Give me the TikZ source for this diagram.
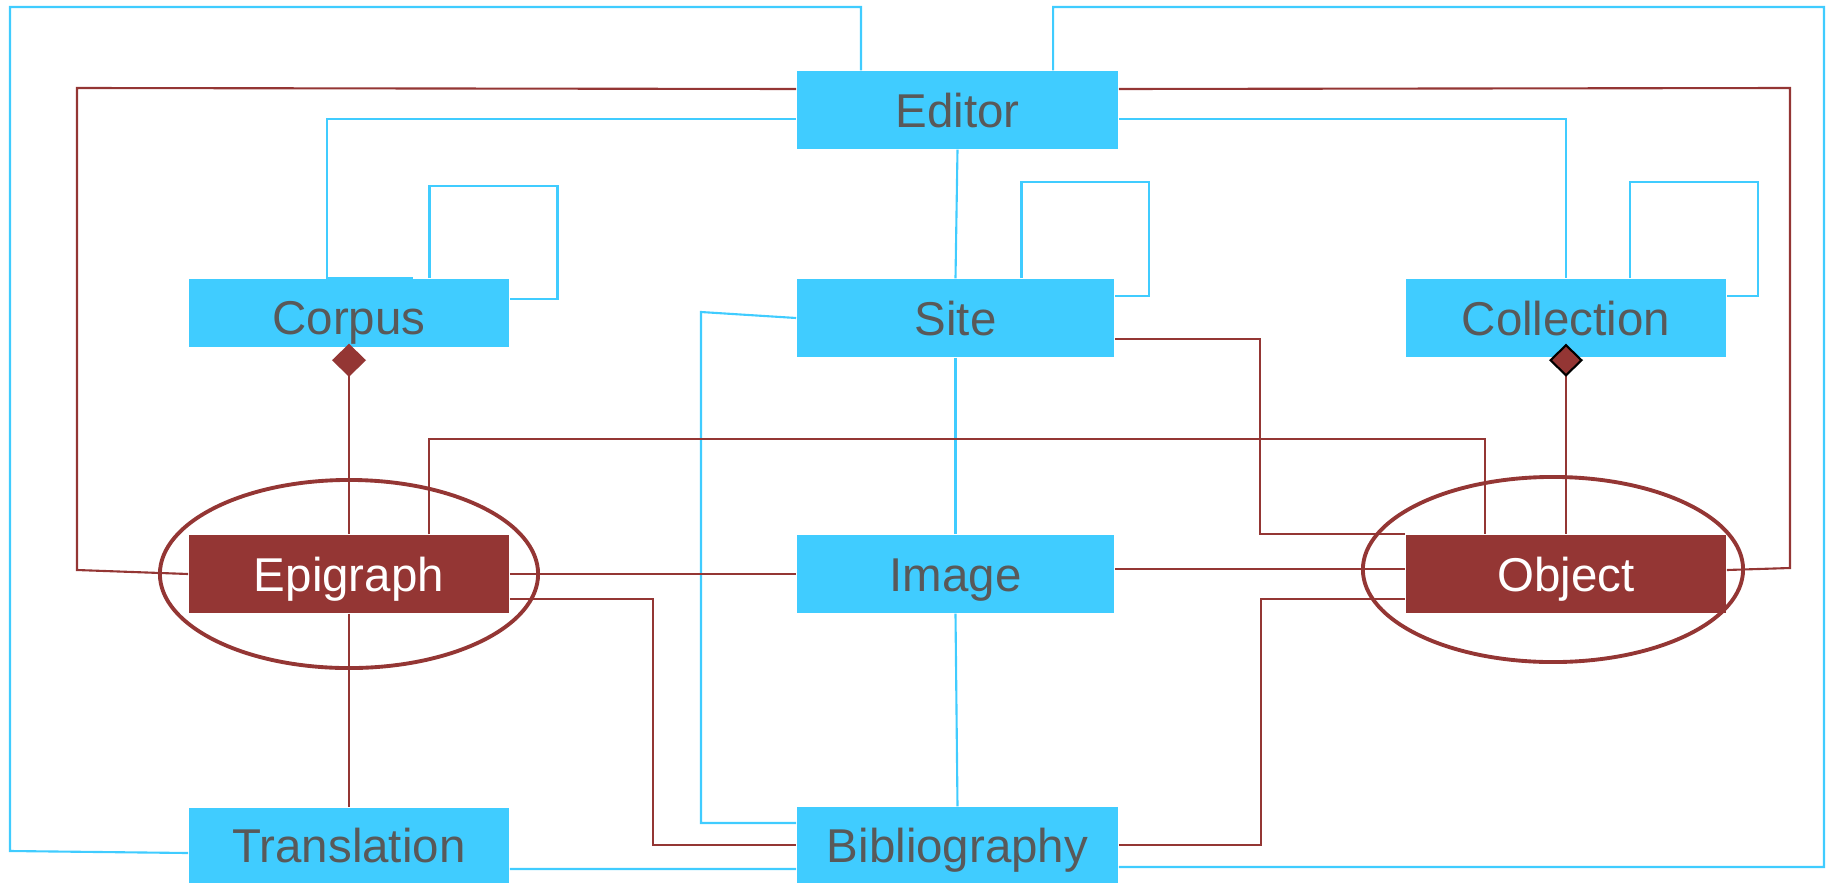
\documentclass[tikz,border=0pt]{standalone}
\usepackage{fontspec}
\setmainfont{Liberation Sans}
\usetikzlibrary{calc,arrows.meta}
\definecolor{skyc}{HTML}{40CCFF}
\definecolor{wine}{HTML}{943634}
\definecolor{ink}{HTML}{595959}
\tikzset{ent/.style={rectangle,fill=skyc,text=ink,inner sep=0pt,minimum width=3.2cm,minimum height=0.78cm,text height=9.7pt,text depth=0pt,font=\fontsize{13.5}{16}\selectfont},
core/.style={ent,fill=wine,text=white},
bl/.style={skyc,line width=0.6pt},
rl/.style={wine,line width=0.6pt},
ring/.style={wine,line width=1.1pt}}

\begin{document}
\begin{tikzpicture}[x=0.01cm,y=-0.01cm]
\useasboundingbox (0,0) rectangle (1829,884);
\node[ent,minimum width=3.21cm] (editor) at (957.5,110) {Editor};
\node[ent,minimum height=0.68cm,text height=12.5pt] (corpus) at (349,313) {Corpus};
\node[ent,minimum width=3.17cm] (site) at (955.5,318) {Site};
\node[ent] (collection) at (1566,318) {Collection};
\node[core] (epigraph) at (349,574) {Epigraph};
\node[ent,minimum width=3.17cm] (image) at (955.5,574) {Image};
\node[core] (object) at (1566,574) {Object};
\node[ent,minimum height=0.75cm] (translation) at (349,845.5) {Translation};
\node[ent,minimum width=3.21cm,minimum height=0.76cm] (biblio) at (957.5,845) {Bibliography};

% blue links
\draw[bl] ([xshift=-0.965cm]editor.north) |- (10,7) -- (10,851) -- ([yshift=-0.075cm]translation.west);
\draw[bl] ([xshift=0.955cm]editor.north) |- (1824,7) -- (1824,867) -- ([yshift=-0.22cm]biblio.east);
\draw[bl] ([yshift=-0.09cm]editor.west) -| ([xshift=-0.22cm]corpus.north) -- ([xshift=0.64cm]corpus.north);
\draw[bl] ([yshift=-0.09cm]editor.east) -| (collection.north);
\draw[bl] (editor.south) -- (site.north);
\draw[bl] (site.south) -- (image.north);
\draw[bl] (image.south) -- (biblio.north);
\draw[bl] (site.west) -- (701,312) -- (701,823) -- ([yshift=0.22cm]biblio.west);
\draw[bl] ([yshift=-0.235cm]translation.east) -- ([yshift=-0.24cm]biblio.west);
% self loops
\draw[bl] ([xshift=0.805cm]corpus.north) -- ++(0,-92) -- ++(128,0) |- ([yshift=0.14cm]corpus.east);
\draw[bl] ([xshift=0.66cm]site.north) -- ++(0,-96) -- ++(127.5,0) |- ([yshift=0.22cm]site.east);
\draw[bl] ([xshift=0.64cm]collection.north) -- ++(0,-96) -- ++(128,0) |- ([yshift=0.22cm]collection.east);

% red links
\draw[rl] ([yshift=0.21cm]editor.west) -- (77,88) -- (77,570) -- (epigraph.west);
\draw[rl] ([yshift=0.21cm]editor.east) -- (1790,88) -- (1790,568) -- ([yshift=0.04cm]object.east);
\draw[rl] (epigraph.east) -- (image.west);
\draw[rl] ([yshift=0.05cm]image.east) -- ([yshift=0.05cm]object.west);
\draw[rl] ([xshift=0.8cm]epigraph.north) -- ++(0,-95) -| ([xshift=-0.81cm]object.north);
\draw[rl] ([yshift=-0.25cm]epigraph.east) -| (653,720) |- (biblio.west);
\draw[rl] ([yshift=-0.21cm]site.east) -| (1260,450) |- (object.north west);
\draw[rl] (biblio.east) -| (1261,720) |- ([yshift=-0.25cm]object.west);
\draw[rl] (epigraph.south) -- (translation.north);
\draw[rl,{Diamond[length=0.33cm,width=0.34cm]}-] ([yshift=0.04cm]corpus.south) -- (epigraph.north);
\draw[rl,{Diamond[length=0.33cm,width=0.34cm,color=black,fill=wine,line width=0.6pt]}-] ([yshift=0.14cm]collection.south) -- (object.north);

% rings
\draw[ring] (epigraph.center) ellipse [x radius=1.89cm,y radius=0.94cm];
\draw[ring] ([xshift=-0.13cm,yshift=0.045cm]object.center) ellipse [x radius=1.9cm,y radius=0.925cm];
\end{tikzpicture}
\end{document}
